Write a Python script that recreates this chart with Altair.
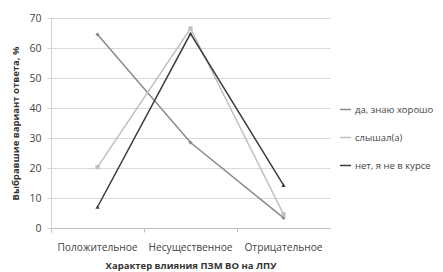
import altair as alt
import pandas as pd

categories = ["Положительное", "Несущественное", "Отрицательное"]
series = ["да, знаю хорошо", "слышал(а)", "нет, я не в курсе"]
values_da = [64.5, 28.5, 3.4]
values_slyshal = [20.3, 66.5, 4.6]
values_net = [7.0, 64.8, 14.3]

colors = ["#8a8a8a", "#c0c0c0", "#3c3c3c"]
shapes = ["diamond", "square", "triangle-up"]

rows = []
for s, vals in zip(series, [values_da, values_slyshal, values_net]):
    for c, v in zip(categories, vals):
        rows.append({"cat": c, "series": s, "value": v})
df = pd.DataFrame(rows)

FONT = "Open Sans"

x_enc = alt.X(
    "cat:N",
    sort=categories,
    title="Характер влияния ПЗМ ВО на ЛПУ",
    scale=alt.Scale(type="band", paddingInner=0, paddingOuter=0),
    axis=alt.Axis(
        labelAngle=0, grid=False, bandPosition=0, tickExtra=True,
        domainColor="#bdbdbd", tickColor="#bdbdbd", tickSize=4,
        labelPadding=10, labelFontSize=10.2, labelColor="#444444",
        labelFont=FONT, titleFont=FONT, titleFontSize=9.5,
        titleFontWeight="bold", titleColor="#333333", titlePadding=8,
    ),
)
y_enc = alt.Y(
    "value:Q",
    title="Выбравшие вариант ответа, %",
    scale=alt.Scale(domain=[0, 70], nice=False),
    axis=alt.Axis(
        values=[0, 10, 20, 30, 40, 50, 60, 70],
        gridColor="#d9d9d9", domainColor="#d0d0d0", tickColor="#d0d0d0",
        tickSize=4, labelPadding=6, labelFontSize=10.5, labelColor="#444444",
        labelFont=FONT, titleFont=FONT, titleFontSize=9.5,
        titleFontWeight="bold", titleColor="#333333", titlePadding=8,
    ),
)

base = alt.Chart(df)

lines = base.mark_line(strokeWidth=1.5).encode(
    x=x_enc,
    y=y_enc,
    color=alt.Color(
        "series:N",
        sort=series,
        scale=alt.Scale(domain=series, range=colors),
        legend=alt.Legend(
            title=None, orient="none", legendX=288, legendY=85,
            labelFont=FONT, labelFontSize=9.5, labelColor="#444444",
            rowPadding=17, symbolType="stroke", symbolStrokeWidth=1.5,
            symbolSize=120, labelOffset=3,
        ),
    ),
)

point_layers = [
    base.transform_filter(alt.datum.series == s)
    .mark_point(filled=True, size=18, opacity=1, shape=shp, color=col)
    .encode(x=x_enc, y=y_enc)
    for s, shp, col in zip(series, shapes, colors)
]

chart = alt.layer(lines, *point_layers).properties(
    width=279,
    height=210,
    autosize=alt.AutoSizeParams(type="none"),
    padding={"left": 43, "top": 10, "right": 105, "bottom": 44},
).configure_view(stroke=None)

chart.save("out.html", embed_options={"renderer": "svg", "actions": False})
